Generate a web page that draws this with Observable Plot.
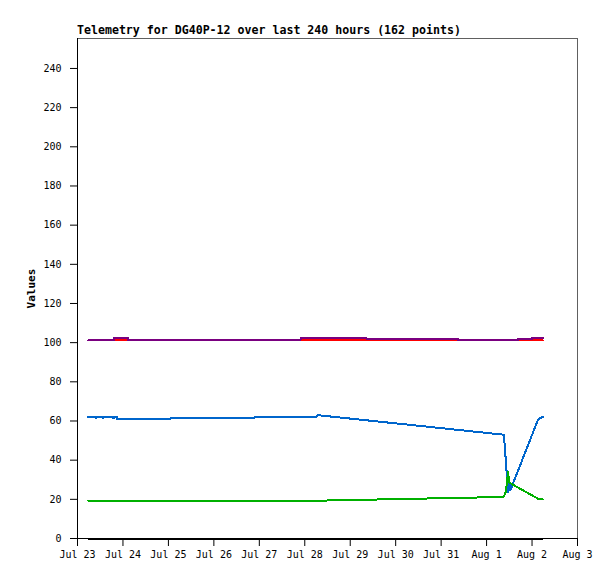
<!DOCTYPE html>
<html>
<head>
<meta charset="utf-8">
<script src="https://cdn.jsdelivr.net/npm/d3@7"></script>
<script src="https://cdn.jsdelivr.net/npm/@observablehq/plot@0.6"></script>
<style>
  html, body { margin: 0; padding: 0; background: white; }
  #title { height: 30px; position: relative; }
  #title span { position: absolute; left: 77px; top: 23px; font: bold 11.6px "DejaVu Sans Mono", monospace; color: black; white-space: nowrap; line-height: 14px; }
  svg { display: block; }
</style>
</head>
<body>
<div id="title"><span id="titleText"></span></div>
<div id="chart"></div>
<script>
// ---- data ----
const titleText = "Telemetry for DG40P-12 over last 240 hours (162 points)";
const yLabel = "Values";
const xDomain = ["2024-07-23T00:00Z", "2024-08-03T00:00Z"];
const xTickDates = ["2024-07-23","2024-07-24","2024-07-25","2024-07-26","2024-07-27","2024-07-28","2024-07-29","2024-07-30","2024-07-31","2024-08-01","2024-08-02","2024-08-03"];
const yTicks = [0,20,40,60,80,100,120,140,160,180,200,220,240];
const yMax = 255.3;

const blackT = ["2024-07-23T05:40Z","2024-08-02T05:40Z"];
const blackV = [0, 0];

const redT = ["2024-07-23T05:40Z","2024-08-02T05:40Z"];
const redV = [101.1, 101.1];

// step-after series
const purpleT = ["2024-07-23T05:40Z","2024-07-23T19:10Z","2024-07-24T02:35Z","2024-07-27T21:45Z","2024-07-29T08:35Z","2024-07-31T09:10Z","2024-08-01T16:20Z","2024-08-02T00:00Z","2024-08-02T05:40Z"];
const purpleV = [101.1, 102.4, 101.1, 102.4, 101.7, 101.1, 101.7, 102.4, 102.4];

const blueT = ["2024-07-23T05:40Z","2024-07-23T09:30Z","2024-07-23T09:50Z","2024-07-23T10:10Z","2024-07-23T13:00Z","2024-07-23T13:15Z","2024-07-23T13:30Z","2024-07-23T18:45Z","2024-07-23T19:00Z","2024-07-23T19:15Z","2024-07-23T20:45Z","2024-07-23T21:00Z","2024-07-25T01:00Z","2024-07-25T01:15Z","2024-07-26T21:15Z","2024-07-26T21:30Z","2024-07-28T06:15Z","2024-07-28T06:45Z","2024-07-28T10:30Z","2024-08-01T09:00Z","2024-08-01T09:30Z","2024-08-01T10:30Z","2024-08-01T11:15Z","2024-08-01T12:00Z","2024-08-01T12:30Z","2024-08-02T03:00Z","2024-08-02T04:00Z","2024-08-02T05:40Z"];
const blueV = [62, 62, 61.3, 62, 62, 61.3, 62, 62, 61.3, 62, 62, 61, 61, 61.5, 61.5, 62, 62, 63, 62.6, 53, 48.5, 35, 23.5, 30, 24.5, 60.3, 61.5, 62];

const greenT = ["2024-07-23T05:40Z","2024-07-28T12:00Z","2024-08-01T09:00Z","2024-08-01T10:00Z","2024-08-01T10:45Z","2024-08-01T11:20Z","2024-08-01T12:00Z","2024-08-02T03:00Z","2024-08-02T04:30Z","2024-08-02T05:40Z"];
const greenV = [19.4, 19.4, 21.2, 23.5, 28.5, 34, 28.5, 20.4, 20, 20];

// ---- build ----
document.getElementById("titleText").textContent = titleText;
const toRows = (T, V) => T.map((t, i) => ({t: new Date(t), v: V[i]}));
const lineOpts = (stroke, extra = {}) => ({x: "t", y: "v", stroke, strokeWidth: 2, shapeRendering: "crispEdges", ...extra});

const plot = Plot.plot({
  width: 615,
  height: 549,
  marginLeft: 77,
  marginRight: 38,
  marginTop: 8,
  marginBottom: 41,
  style: {fontFamily: "'DejaVu Sans Mono', monospace", fontSize: "10px", color: "black", background: "white"},
  x: {type: "utc", domain: xDomain.map(d => new Date(d))},
  y: {domain: [0, yMax]},
  marks: [
    Plot.frame({stroke: "#606060"}),
    Plot.axisX({ticks: xTickDates.map(d => new Date(d + "T00:00Z")), tickSize: 8, tickPadding: 4, tickFormat: d3.utcFormat("%b %-d"), label: null}),
    Plot.axisY({ticks: yTicks, tickSize: 7, tickPadding: 9, label: null}),
    Plot.text([yLabel], {frameAnchor: "left", textAnchor: "middle", dx: -46, rotate: -90, fontWeight: "bold", fontFamily: "'DejaVu Sans Mono', monospace", fontSize: 11, fill: "black"}),
    Plot.line(toRows(redT, redV), lineOpts("#ff0000")),
    Plot.line(toRows(purpleT, purpleV), lineOpts("#7a0080", {curve: "step-after"})),
    Plot.line(toRows(blueT, blueV), lineOpts("#0066cc")),
    Plot.line(toRows(greenT, greenV), lineOpts("#00b000")),
    Plot.ruleX([new Date(xDomain[0])], {stroke: "black"}),
    Plot.ruleY([0], {stroke: "black"}),
    Plot.line(toRows(blackT, blackV), lineOpts("black"))
  ]
});
document.getElementById("chart").appendChild(plot);
</script>
</body>
</html>
